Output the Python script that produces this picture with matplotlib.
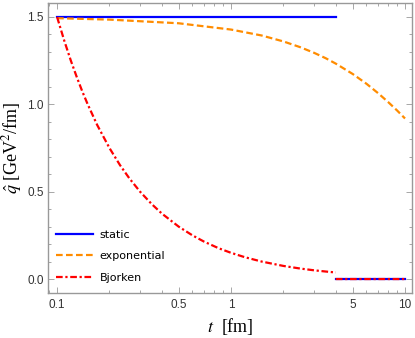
import matplotlib
matplotlib.use('Agg')
import matplotlib.pyplot as plt
import numpy as np
from matplotlib.ticker import FixedLocator, FixedFormatter, MultipleLocator, LogLocator, NullFormatter

# values
t_static = [0.1, 4.0, np.nan, 4.0, 10.0]
q_static = [1.5, 1.5, np.nan, 0.0, 0.0]

t_exp = [0.1, 0.2, 0.5, 1.0, 1.5, 2.0, 2.5, 3.0, 3.5, 4.0, 5.0, 6.0, 7.0, 8.0, 9.0, 10.0]
q_exp = [1.493, 1.485, 1.464, 1.428, 1.394, 1.360, 1.327, 1.295, 1.264, 1.233,
         1.174, 1.118, 1.064, 1.013, 0.965, 0.919]

t_bj = [0.1, 0.11, 0.12, 0.13, 0.14, 0.15, 0.17, 0.2, 0.23, 0.26, 0.3, 0.35, 0.4,
        0.5, 0.6, 0.7, 0.85, 1.0, 1.2, 1.5, 2.0, 2.5, 3.0, 3.5, 4.0, np.nan, 4.0, 10.0]
q_bj = [1.5, 1.364, 1.25, 1.154, 1.071, 1.0, 0.882, 0.75, 0.652, 0.577, 0.5, 0.429,
        0.375, 0.3, 0.25, 0.214, 0.176, 0.15, 0.125, 0.1, 0.075, 0.06, 0.05, 0.043,
        0.0375, np.nan, 0.0, 0.0]

x_ticks = [0.1, 0.5, 1, 5, 10]
x_labels = ['0.1', '0.5', '1', '5', '10']
y_ticks = [0.0, 0.5, 1.0, 1.5]
y_labels = ['0.0', '0.5', '1.0', '1.5']

plt.rcParams['mathtext.fontset'] = 'stix'

fig = plt.figure(figsize=(4.15, 3.38), dpi=100)
ax = fig.add_axes([0.1157, 0.1331, 0.8771, 0.858])

ax.plot(t_static, q_static, color='#0000ff', lw=1.6, label='static')
ax.plot(t_exp, q_exp, color='#ff8c00', lw=1.6, ls=(0, (3, 1.5)), label='exponential')
ax.plot(t_bj, q_bj, color='#ff0000', lw=1.6, ls=(0, (3, 1.2, 1, 1.2)), label='Bjorken')

ax.set_xscale('log')
ax.set_xlim(0.0887, 10.97)
ax.set_ylim(-0.08, 1.58)

ax.xaxis.set_major_locator(FixedLocator(x_ticks))
ax.xaxis.set_major_formatter(FixedFormatter(x_labels))
ax.xaxis.set_minor_locator(LogLocator(base=10, subs=np.arange(1, 10)))
ax.xaxis.set_minor_formatter(NullFormatter())
ax.yaxis.set_major_locator(FixedLocator(y_ticks))
ax.yaxis.set_major_formatter(FixedFormatter(y_labels))
ax.yaxis.set_minor_locator(MultipleLocator(0.1))

ax.tick_params(which='both', direction='in', top=True, right=True,
               color='#999999', labelcolor='#333333', labelsize=8.5, width=0.6)
ax.tick_params(which='major', length=4)
ax.tick_params(which='minor', length=2.2)
ax.tick_params(axis='y', pad=3)
ax.tick_params(axis='x', pad=4)
for lab in ax.get_xticklabels() + ax.get_yticklabels():
    lab.set_family('Liberation Sans')
for s in ax.spines.values():
    s.set_color('#999999')
    s.set_linewidth(1.0)

ax.set_xlabel(r'$t$  [fm]', fontsize=13, family='Liberation Serif')
ax.set_ylabel(r'$\hat{q}$ [GeV$^2$/fm]', fontsize=13, family='Liberation Serif')
ax.xaxis.set_label_coords(0.5, -0.078)
ax.yaxis.set_label_coords(-0.066, 0.5)

ax.legend(loc='lower left', frameon=False, fontsize=8, handlelength=3.3,
          bbox_to_anchor=(-0.005, 0.0), labelspacing=1.05, handletextpad=0.6)

plt.savefig('out.png', dpi=100)
plt.close()
